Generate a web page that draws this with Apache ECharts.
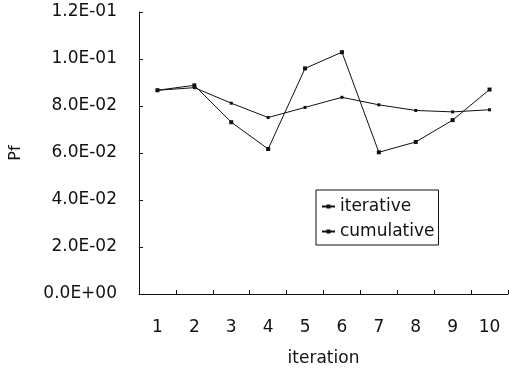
<!DOCTYPE html>
<html>
<head>
<meta charset="utf-8">
<script src="https://cdn.jsdelivr.net/npm/echarts@6/dist/echarts.min.js"></script>
<style>
html,body{margin:0;padding:0;background:#fff;}
#chart{width:509px;height:373px;}
</style>
</head>
<body>
<div id="chart"></div>
<script>
var categories = ['1','2','3','4','5','6','7','8','9','10'];
var iterative = [0.0867, 0.0888, 0.0731, 0.0617, 0.0960, 0.1029, 0.0603, 0.0647, 0.0740, 0.0870];
var cumulative = [0.0867, 0.0878, 0.0812, 0.0751, 0.0794, 0.0837, 0.0805, 0.0781, 0.0775, 0.0784];
var yTickLabels = ['0.0E+00','2.0E-02','4.0E-02','6.0E-02','8.0E-02','1.0E-01','1.2E-01'];
var yStep = 0.02;

var FONT = 'DejaVu Sans';
var chart = echarts.init(document.getElementById('chart'));
chart.setOption({
  animation: false,
  backgroundColor: '#fff',
  textStyle: {fontFamily: FONT, color: '#111'},
  grid: {left: 135, right: 1, top: 12, bottom: 79, containLabel: false},
  legend: {
    orient: 'vertical',
    left: 316, top: 190,
    padding: [8, 4, 5, 5],
    itemGap: 8,
    itemWidth: 13, itemHeight: 5,
    borderColor: '#111', borderWidth: 1,
    textStyle: {fontFamily: FONT, fontSize: 17, color: '#111'},
    data: ['iterative', 'cumulative']
  },
  xAxis: {
    type: 'category',
    data: categories,
    boundaryGap: true,
    name: 'iteration',
    nameLocation: 'middle',
    nameGap: 56,
    nameTextStyle: {fontFamily: FONT, fontSize: 17, color: '#111'},
    axisLine: {lineStyle: {color: '#111', width: 1}},
    axisTick: {show: true, inside: true, length: 4, lineStyle: {color: '#111'}},
    axisLabel: {fontFamily: FONT, fontSize: 17, color: '#111', margin: 25},
    splitLine: {show: false}
  },
  yAxis: {
    type: 'value',
    min: 0, max: 0.12, interval: yStep,
    name: 'Pf',
    nameLocation: 'middle',
    nameGap: 115,
    nameTextStyle: {fontFamily: FONT, fontSize: 16, color: '#111'},
    axisLine: {show: true, lineStyle: {color: '#111', width: 1}},
    axisTick: {show: true, inside: true, length: 4, lineStyle: {color: '#111'}},
    axisLabel: {
      fontFamily: FONT, fontSize: 17, color: '#111', margin: 22,
      padding: [5, 0, 0, 0],
      formatter: function (v) { return yTickLabels[Math.round(v / yStep)]; }
    },
    splitLine: {show: false}
  },
  series: [
    {
      name: 'iterative', type: 'line', data: iterative,
      symbol: 'rect', symbolSize: 4,
      lineStyle: {color: '#111', width: 1},
      itemStyle: {color: '#111'}
    },
    {
      name: 'cumulative', type: 'line', data: cumulative,
      symbol: 'rect', symbolSize: 3,
      lineStyle: {color: '#111', width: 1},
      itemStyle: {color: '#111'}
    }
  ]
});
</script>
</body>
</html>
